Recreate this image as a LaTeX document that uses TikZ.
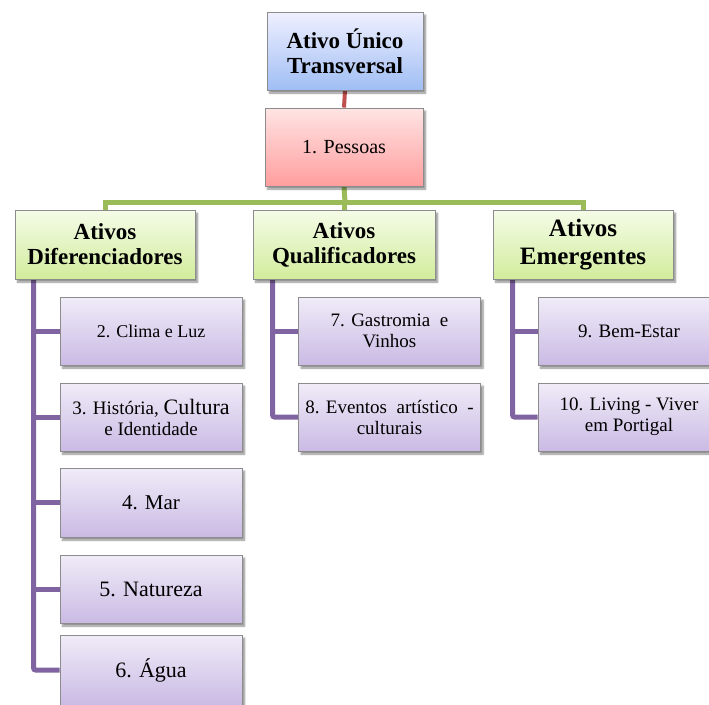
\documentclass[tikz,border=0pt]{standalone}
\usepackage{fontspec}
\setmainfont{Liberation Serif}
\usetikzlibrary{shadows.blur}
\pgfdeclarelayer{bg}
\pgfsetlayers{bg,main}
\definecolor{edge}{HTML}{8C8C8C}
\definecolor{redln}{HTML}{C0504D}
\definecolor{greenln}{HTML}{9BBB59}
\definecolor{purpln}{HTML}{8064A2}
\tikzset{
  box/.style={draw=edge, line width=0.9pt, align=center, inner sep=2pt,
    shading=axis, shading angle=0,
    blur shadow={shadow xshift=2.5pt, shadow yshift=-3pt, shadow blur steps=6, shadow opacity=45}},
  topbox/.style={box, top color=blue!6!white, bottom color={rgb,255:red,160;green,190;blue,244},
    font=\fontsize{23}{25}\selectfont\bfseries},
  pesbox/.style={box, top color={rgb,255:red,255;green,228;blue,228}, bottom color={rgb,255:red,255;green,158;blue,158},
    font=\fontsize{20}{22}\selectfont},
  headbox/.style={box, top color={rgb,255:red,245;green,252;blue,232}, bottom color={rgb,255:red,210;green,236;blue,156},
    font=\fontsize{23}{25}\selectfont\bfseries},
  leafbox/.style={box, top color={rgb,255:red,240;green,236;blue,248}, bottom color={rgb,255:red,202;green,186;blue,228},
    font=\fontsize{19}{21}\selectfont, minimum width=182pt},
  redline/.style={draw=redln, line width=4pt},
  greenline/.style={draw=greenln, line width=5pt},
  purpline/.style={draw=purpln, line width=5pt, rounded corners=2pt}
}
\begin{document}
\begin{tikzpicture}[x=1pt, y=-1pt]
\useasboundingbox (0,0) rectangle (709,704);

% top level
\node[topbox, minimum width=156pt, minimum height=78pt] (top) at (345,51) {Ativo Único\\Transversal};
\node[pesbox, minimum width=158pt, minimum height=78pt] (pes) at (344,147) {1. Pessoas};

% second level
\node[headbox, minimum width=180pt, minimum height=69pt] (hd1) at (105,244.5) {Ativos\\Diferenciadores};
\node[headbox, minimum width=182pt, minimum height=69pt] (hd2) at (344,244.5) {Ativos\\Qualificadores};
\node[headbox, minimum width=180pt, minimum height=69pt, font=\fontsize{25}{28}\selectfont\bfseries] (hd3) at (583,244.5) {Ativos\\Emergentes};

% leaves of the first group
\node[leafbox, minimum height=68pt, font=\fontsize{18}{20}\selectfont] (c2) at (151,331) {2. Clima e Luz};
\node[leafbox, minimum height=68pt] (c3) at (151,417) {3. História, {\fontsize{22}{21}\selectfont Cultura}\\e Identidade};
\node[leafbox, minimum height=69pt, font=\fontsize{21}{23}\selectfont] (c4) at (151,502.5) {4. Mar};
\node[leafbox, minimum height=68pt, font=\fontsize{22}{24}\selectfont] (c5) at (151,589) {5. Natureza};
\node[leafbox, minimum height=70pt, font=\fontsize{22}{24}\selectfont] (c6) at (151,670) {6. Água};

% leaves of the second group
\node[leafbox, minimum height=68pt] (c7) at (389.5,331) {7. Gastromia\enspace e\\Vinhos};
\node[leafbox, minimum height=68pt] (c8) at (389.5,417) {8. Eventos\enspace artístico\enspace -\\culturais};

% leaves of the third group
\node[leafbox, minimum height=68pt] (c9) at (629,331) {9. Bem-Estar};
\node[leafbox, minimum height=68pt] (c10) at (629,417) {10. Living - Viver\\em Portigal};

% trunk anchors and the junction of the green bar
\coordinate (gj) at (345,202);
\coordinate (t1) at ([xshift=19pt]hd1.south west);
\coordinate (t2) at ([xshift=20pt]hd2.south west);
\coordinate (t3) at ([xshift=20pt]hd3.south west);

\begin{pgfonlayer}{bg}
  \draw[redline] (top.south) -- (pes.north);
  \draw[greenline] (pes.south) -- (gj);
  \draw[greenline] (hd1.north) |- (gj);
  \draw[greenline] (hd3.north) |- (gj);
  \draw[greenline] (hd2.north) -- (hd2.north |- gj);

  \draw[purpline] (t1) |- (c6.west);
  \foreach \c in {c2,c3,c4,c5} \draw[purpline] (\c.west -| t1) -- (\c.west);
  \draw[purpline] (t2) |- (c8.west);
  \draw[purpline] (c7.west -| t2) -- (c7.west);
  \draw[purpline] (t3) |- (c10.west);
  \draw[purpline] (c9.west -| t3) -- (c9.west);
\end{pgfonlayer}
\end{tikzpicture}
\end{document}
